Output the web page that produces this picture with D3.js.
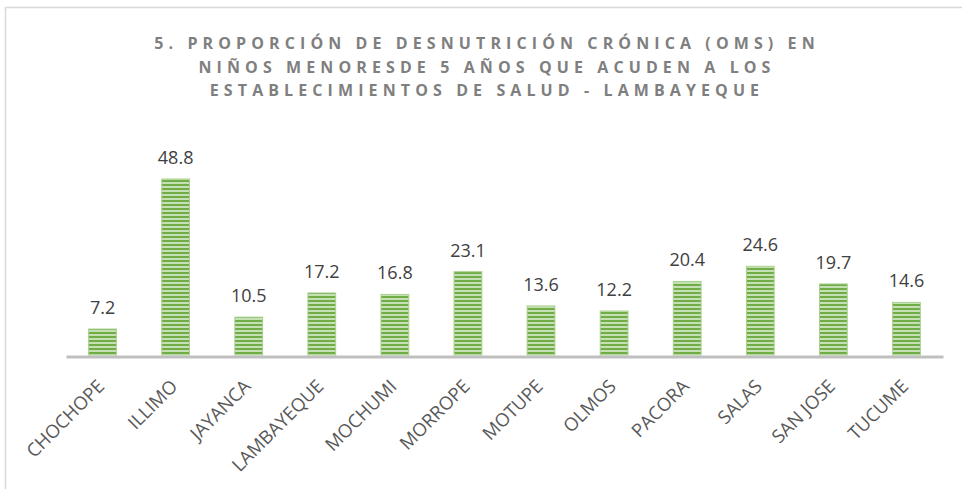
<!DOCTYPE html>
<html>
<head>
<meta charset="utf-8">
<title></title>
<style>
  body { margin: 0; background: #fff; }
  text { font-family: "Open Sans", "DejaVu Sans", sans-serif; }
</style>
</head>
<body>
<script src="https://cdn.jsdelivr.net/npm/d3@7/dist/d3.min.js"></script>
<script>
// datos
let categorias = ["CHOCHOPE", "ILLIMO", "JAYANCA", "LAMBAYEQUE", "MOCHUMI", "MORROPE",
                  "MOTUPE", "OLMOS", "PACORA", "SALAS", "SAN JOSE", "TUCUME"];
let valores = [7.2, 48.8, 10.5, 17.2, 16.8, 23.1, 13.6, 12.2, 20.4, 24.6, 19.7, 14.6];
let titulo = [
    "5. PROPORCIÓN DE DESNUTRICIÓN CRÓNICA (OMS) EN",
    "NIÑOS MENORESDE 5 AÑOS QUE ACUDEN A LOS",
    "ESTABLECIMIENTOS DE SALUD - LAMBAYEQUE"
];

let width = 962, height = 489;
let svg = d3.select("body").append("svg").attr("width", width).attr("height", height);

// borde del gráfico
svg.append("rect")
    .attr("x", 5.5).attr("y", 7.5)
    .attr("width", 1000).attr("height", 1000)
    .attr("fill", "none").attr("stroke", "#d9d9d9").attr("stroke-width", 1.5);

// patrón de rayas
let pat = svg.append("defs").append("pattern")
    .attr("id", "rayas").attr("patternUnits", "userSpaceOnUse")
    .attr("width", 4).attr("height", 4);
pat.append("rect").attr("width", 4).attr("height", 4).attr("fill", "#70ad47");
pat.append("rect").attr("y", 2).attr("width", 4).attr("height", 2).attr("fill", "#c5e0b4");

let left = 66, right = 943, base = 355;

let x = d3.scaleBand().domain(categorias).range([left, right]).paddingInner(0.62).paddingOuter(0.31);
let y = d3.scaleLinear().domain([0, 48.8]).range([base, 179]);

// título
svg.append("g").selectAll("text")
    .data(titulo).enter().append("text")
    .attr("x", 487).attr("y", (d, i) => 49 + i * 23.5)
    .attr("text-anchor", "middle")
    .attr("font-size", 16).attr("font-weight", "bold")
    .attr("letter-spacing", 5.1)
    .attr("fill", "#7f7f7f")
    .text(d => d);

// barras
svg.selectAll(".barra")
    .data(valores).enter().append("rect")
    .attr("class", "barra")
    .attr("x", (d, i) => x(categorias[i]))
    .attr("y", d => y(d))
    .attr("width", x.bandwidth())
    .attr("height", d => base - y(d))
    .attr("fill", "url(#rayas)")
    .attr("stroke", "#a9d18e").attr("stroke-width", 1);

// etiquetas de valores
svg.selectAll(".valor")
    .data(valores).enter().append("text")
    .attr("class", "valor")
    .attr("x", (d, i) => x(categorias[i]) + x.bandwidth() / 2)
    .attr("y", d => y(d) - 15)
    .attr("text-anchor", "middle")
    .attr("font-size", 18)
    .attr("fill", "#404040")
    .text(d => d.toFixed(1));

// eje x
let xAxis = d3.axisBottom(x).tickSize(0).tickPadding(0);
let gx = svg.append("g")
    .attr("transform", "translate(0," + (base + 1.5) + ")")
    .call(xAxis);
gx.select(".domain").attr("stroke", "#bfbfbf").attr("stroke-width", 3);
gx.selectAll(".tick text")
    .attr("font-size", 18.5)
    .attr("font-family", "'Open Sans', sans-serif")
    .attr("fill", "#595959")
    .attr("text-anchor", "end")
    .attr("transform", "translate(3,31) rotate(-45)")
    .attr("dy", 0)
    .attr("y", 0);
</script>
</body>
</html>
